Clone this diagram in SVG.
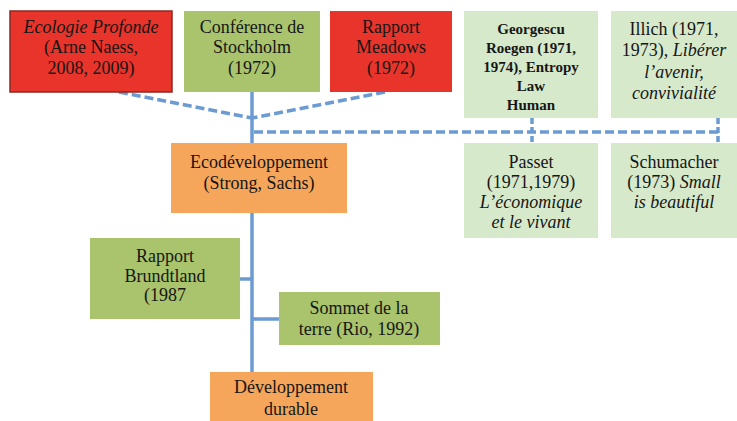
<svg xmlns="http://www.w3.org/2000/svg" width="737" height="421" viewBox="0 0 737 421">
<style>
text{font-family:"Liberation Serif","DejaVu Serif",serif;font-size:18px;fill:#161616;text-anchor:middle}
.sm{font-size:15px;font-weight:bold}
.it{font-style:italic}
.red{fill:#e8342a}
.grn{fill:#a9c46c}
.lgr{fill:#d7e9cb}
.org{fill:#f6a65a}
.dash{stroke:#6b9bd2;stroke-width:3.5;stroke-dasharray:9 4;fill:none}
.solid{stroke:#6b9bd2;stroke-width:3.5;fill:none}
</style>
<rect width="737" height="421" fill="#ffffff"/>
<g id="connectors">
<path class="dash" d="M119,92 L252,118 M385,92 L252,118"/>
<path class="dash" d="M254,132 H718"/>
<path class="dash" d="M532,118 V145 M718,118 V145" style="stroke-dasharray:6 3"/>
<path class="solid" d="M252,92 V372"/>
<path class="solid" d="M240,279 H252 M252,319 H279"/>
</g>
<g id="ecologie">
<rect class="red" x="10" y="11" width="162" height="81" stroke="#8a2a22" stroke-width="1.5"/>
<text x="91" y="33" class="it">Ecologie Profonde</text>
<text x="91" y="53">(Arne Naess,</text>
<text x="91" y="74">2008, 2009)</text>
</g>
<g id="stockholm">
<rect class="grn" x="184" y="11" width="136" height="81"/>
<text x="252" y="33">Conférence de</text>
<text x="252" y="53">Stockholm</text>
<text x="252" y="74">(1972)</text>
</g>
<g id="meadows">
<rect class="red" x="330" y="11" width="122" height="81"/>
<text x="391" y="33">Rapport</text>
<text x="391" y="53">Meadows</text>
<text x="391" y="74">(1972)</text>
</g>
<g id="georgescu">
<rect class="lgr" x="464" y="11" width="134" height="107"/>
<text class="sm" x="531" y="34">Georgescu</text>
<text class="sm" x="531" y="53">Roegen (1971,</text>
<text class="sm" x="531" y="72">1974), Entropy</text>
<text class="sm" x="531" y="91">Law</text>
<text class="sm" x="531" y="110">Human</text>
</g>
<g id="illich">
<rect class="lgr" x="611" y="11" width="126" height="107"/>
<text x="674" y="35">Illich (1971,</text>
<text x="674" y="56">1973), <tspan class="it">Libérer</tspan></text>
<text x="674" y="78" class="it">l’avenir,</text>
<text x="674" y="99" class="it">convivialité</text>
</g>
<g id="passet">
<rect class="lgr" x="464" y="143" width="134" height="95"/>
<text x="531" y="168">Passet</text>
<text x="531" y="188">(1971,1979)</text>
<text x="531" y="208" class="it">L’économique</text>
<text x="531" y="228" class="it">et le vivant</text>
</g>
<g id="schumacher">
<rect class="lgr" x="611" y="143" width="126" height="95"/>
<text x="674" y="168">Schumacher</text>
<text x="674" y="188">(1973) <tspan class="it">Small</tspan></text>
<text x="674" y="208" class="it">is beautiful</text>
</g>
<g id="ecodev">
<rect class="org" x="171" y="143" width="176" height="70"/>
<text x="259" y="168">Ecodéveloppement</text>
<text x="259" y="189">(Strong, Sachs)</text>
</g>
<g id="brundtland">
<rect class="grn" x="90" y="238" width="150" height="81"/>
<text x="165" y="262">Rapport</text>
<text x="165" y="282">Brundtland</text>
<text x="165" y="301">(1987</text>
</g>
<g id="sommet">
<rect class="grn" x="279" y="292" width="161" height="53"/>
<text x="359" y="314">Sommet de la</text>
<text x="359" y="335">terre (Rio, 1992)</text>
</g>
<g id="devdurable">
<rect class="org" x="210" y="372" width="163" height="49"/>
<text x="291" y="393">Développement</text>
<text x="291" y="415">durable</text>
</g>
</svg>
